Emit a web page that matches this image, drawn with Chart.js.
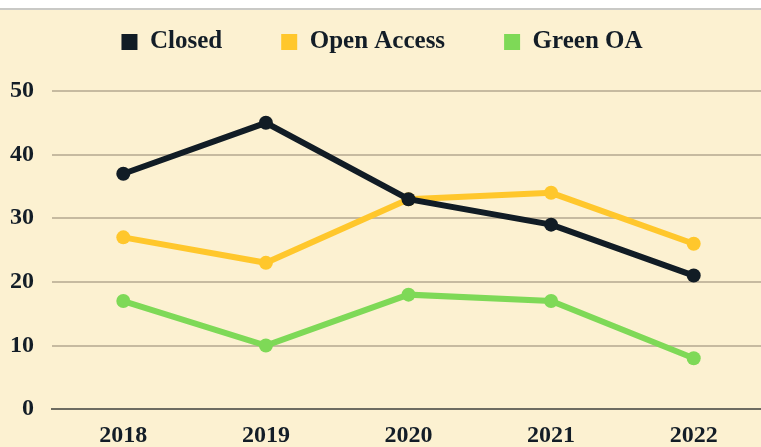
<!DOCTYPE html>
<html>
<head>
<meta charset="utf-8">
<script src="https://cdn.jsdelivr.net/npm/chart.js@4"></script>
<style>
  html, body { margin: 0; padding: 0; background: #fff; overflow: hidden; }
  .wrap { margin-top: 8px; border-top: 2px solid #c9c9c6; background: #fcf1d1; width: 772px; height: 452px; overflow: hidden; }
  #chart { display: block; }
</style>
</head>
<body>
<div class="wrap"><canvas id="chart" width="772" height="452"></canvas></div>
<script>
var years = ['2018', '2019', '2020', '2021', '2022'];
var closedAccess = [37, 45, 33, 29, 21];
var openAccess = [27, 23, 33, 34, 26];
var greenOA = [17, 10, 18, 17, 8];
var yTicks = [0, 10, 20, 30, 40, 50];

var ink = '#131d27';
var family = '"Liberation Serif", "Times New Roman", serif';
var tickFont = { family: family, size: 24, weight: 'bold' };
var legendFont = { family: family, size: 25, weight: 'bold' };

// push the plot area down below the legend
var legendGap = {
  id: 'legendGap',
  beforeLayout: function (chart) {
    var lg = chart.legend;
    if (lg && !lg._gapPatched) {
      var fit = lg.fit;
      lg.fit = function () { fit.call(this); this.height += 26.5; };
      lg._gapPatched = true;
    }
  }
};

function line(label, data, color) {
  return {
    label: label,
    data: data,
    borderColor: color,
    backgroundColor: color,
    borderWidth: 6,
    pointRadius: 7,
    pointHoverRadius: 7,
    pointBorderWidth: 0,
    pointBackgroundColor: color,
    tension: 0
  };
}

var chart = new Chart(document.getElementById('chart'), {
  type: 'line',
  data: {
    labels: years,
    datasets: [
      line('Closed', closedAccess, '#111c25'),
      line('Open Access', openAccess, '#ffc72c'),
      line('Green OA', greenOA, '#7ed957')
    ]
  },
  options: {
    responsive: false,
    animation: false,
    layout: { padding: { top: -39.5, left: -8, right: 0, bottom: 0 } },
    plugins: {
      legend: {
        labels: {
          boxWidth: 16, boxHeight: 16, padding: 59, color: ink, font: legendFont,
          generateLabels: function (c) {
            return Chart.defaults.plugins.legend.labels.generateLabels(c).map(function (it) {
              it.lineWidth = 0;
              return it;
            });
          }
        }
      },
      tooltip: { enabled: false }
    },
    scales: {
      x: {
        offset: true,
        grid: { display: false, drawTicks: false },
        border: { display: true, color: '#6d6c61', width: 2 },
        ticks: { color: ink, font: tickFont, padding: 12 }
      },
      y: {
        min: 0,
        max: 50,
        afterBuildTicks: function (axis) { axis.ticks = yTicks.map(function (v) { return { value: v }; }); },
        grid: { color: '#c6baa0', lineWidth: 2, drawTicks: false },
        border: { display: false },
        ticks: { color: ink, font: tickFont, padding: 18 }
      }
    }
  },
  plugins: [legendGap]
});
</script>
</body>
</html>
